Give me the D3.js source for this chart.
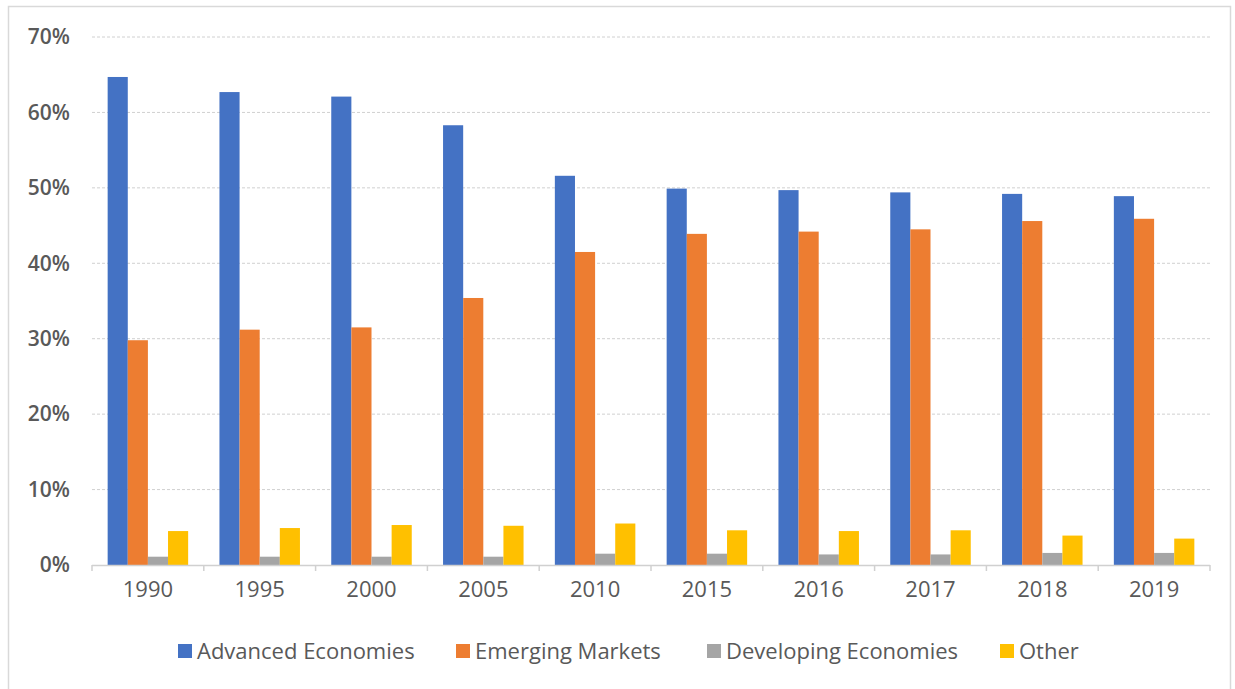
<!DOCTYPE html>
<html>
<head>
<meta charset="utf-8">
<script src="https://cdn.jsdelivr.net/npm/d3@7"></script>
<style>
  html, body { margin: 0; padding: 0; background: #fff; }
  svg { display: block; }
  text { font-family: "Open Sans", "Liberation Sans", sans-serif; fill: #595959; }
</style>
</head>
<body>
<svg id="chart" width="1235" height="689"></svg>
<script>
// Share of total by economy group, per year (percent)
const years = ["1990", "1995", "2000", "2005", "2010", "2015", "2016", "2017", "2018", "2019"];
const seriesNames = ["Advanced Economies", "Emerging Markets", "Developing Economies", "Other"];
const advanced   = [64.7, 62.7, 62.1, 58.3, 51.6, 49.9, 49.7, 49.4, 49.2, 48.9];
const emerging   = [29.8, 31.2, 31.5, 35.4, 41.5, 43.9, 44.2, 44.5, 45.6, 45.9];
const developing = [1.1, 1.1, 1.1, 1.1, 1.5, 1.5, 1.4, 1.4, 1.6, 1.6];
const other      = [4.5, 4.9, 5.3, 5.2, 5.5, 4.6, 4.5, 4.6, 3.9, 3.5];
const yTicks = [0, 10, 20, 30, 40, 50, 60, 70];
const colors = ["#4472c4", "#ed7d31", "#a5a5a5", "#ffc000"];

const seriesValues = [advanced, emerging, developing, other];
const rows = years.map((y, i) => ({ year: y, values: seriesValues.map(s => s[i]) }));

const svg = d3.select("#chart");

// outer frame
svg.append("rect")
  .attr("x", 8.5).attr("y", 6.5).attr("width", 1222).attr("height", 690)
  .attr("fill", "none").attr("stroke", "#d9d9d9").attr("stroke-width", 1.5);

const x0 = d3.scaleBand().domain(years).range([92, 1210]).paddingInner(0.28).paddingOuter(0.14);
const x1 = d3.scaleBand().domain(d3.range(seriesNames.length)).range([0, x0.bandwidth()]);
const y = d3.scaleLinear().domain([0, 70]).range([565, 37]);

// horizontal gridlines
svg.append("g")
  .selectAll("line")
  .data(yTicks.filter(t => t > 0))
  .join("line")
  .attr("x1", 92).attr("x2", 1210)
  .attr("y1", d => y(d)).attr("y2", d => y(d))
  .attr("stroke", "#d0d0d0").attr("stroke-width", 1).attr("stroke-dasharray", "3,2");

// y axis labels
const yAxis = d3.axisLeft(y).tickValues(yTicks).tickFormat(d => d + "%").tickSize(0).tickPadding(0);
const gy = svg.append("g").attr("transform", "translate(70,0)").call(yAxis);
gy.select(".domain").remove();
gy.selectAll("text")
  .attr("font-size", 21).attr("font-weight", 600)
  .style("font-family", "'Open Sans', 'Liberation Sans', sans-serif")
  .attr("fill", "#595959");

// bars
const groups = svg.append("g")
  .selectAll("g")
  .data(rows)
  .join("g")
  .attr("transform", d => `translate(${x0(d.year)},0)`);

groups.selectAll("rect")
  .data(d => d.values.map((v, k) => ({ k, v })))
  .join("rect")
  .attr("x", d => x1(d.k))
  .attr("width", x1.bandwidth())
  .attr("y", d => y(d.v))
  .attr("height", d => y(0) - y(d.v))
  .attr("fill", d => colors[d.k]);

// category axis line with tick marks at band boundaries
const gx = svg.append("g");
gx.append("line")
  .attr("x1", 92).attr("x2", 1210).attr("y1", 565.5).attr("y2", 565.5)
  .attr("stroke", "#d0d0d0").attr("stroke-width", 1.5);
gx.selectAll("line.tk")
  .data(years.map((yr, i) => 92 + i * (1118 / years.length)).concat([1210]))
  .join("line")
  .attr("class", "tk")
  .attr("x1", d => d).attr("x2", d => d)
  .attr("y1", 565).attr("y2", 571)
  .attr("stroke", "#d0d0d0").attr("stroke-width", 1.5);

const xAxis = d3.axisBottom(x0).tickSize(0).tickPadding(0);
const gxl = svg.append("g").attr("transform", "translate(0,581)").call(xAxis);
gxl.select(".domain").remove();
gxl.selectAll("text")
  .attr("font-size", 22)
  .attr("dy", "0.71em")
  .style("font-family", "'Open Sans', 'Liberation Sans', sans-serif")
  .attr("fill", "#595959");

// legend
const legendX = [178, 456, 707, 1000];
const legend = svg.append("g")
  .selectAll("g")
  .data(seriesNames)
  .join("g")
  .attr("transform", (d, i) => `translate(${legendX[i]},644)`);
legend.append("rect")
  .attr("width", 14).attr("height", 14)
  .attr("fill", (d, i) => colors[i]);
legend.append("text")
  .attr("x", 19).attr("y", 7).attr("dy", "0.35em")
  .attr("font-size", 22)
  .text(d => d);
</script>
</body>
</html>
